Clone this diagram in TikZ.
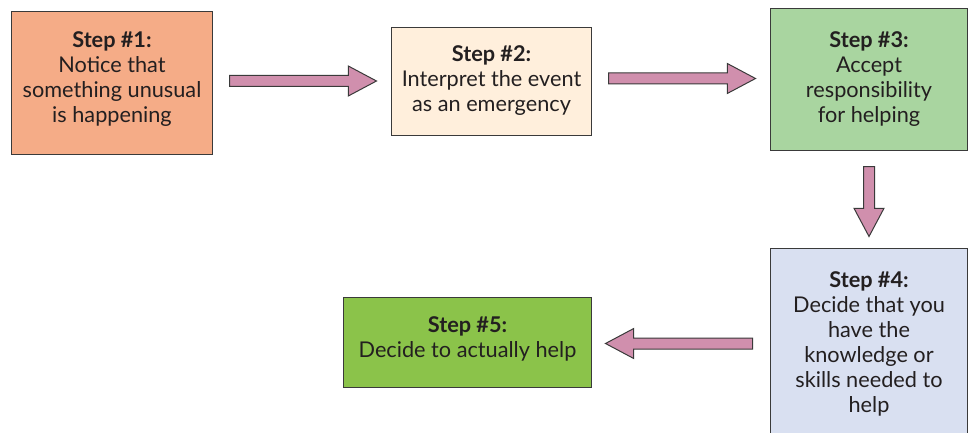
\documentclass[tikz,border=0pt]{standalone}
\usepackage{fontspec}
\setmainfont{Lato}
\usetikzlibrary{shapes.arrows,calc}
\definecolor{txt}{HTML}{231F20}
\definecolor{edge}{HTML}{3A3A3A}
\definecolor{cA}{HTML}{F5AC87}
\definecolor{cB}{HTML}{FFEFDC}
\definecolor{cC}{HTML}{A9D5A0}
\definecolor{cD}{HTML}{D9E0F1}
\definecolor{cE}{HTML}{8BC34A}
\definecolor{arr}{HTML}{D08FAD}
\tikzset{
  stepbox/.style={draw=edge, line width=1pt, inner sep=0pt, anchor=north west},
  steptext/.style={align=center, text=txt, font=\fontsize{21.7}{25}\selectfont, inner sep=0pt},
  blockarrow/.style={single arrow, draw=edge, fill=arr, line width=1pt,
    inner xsep=0pt, inner ysep=5pt, single arrow head extend=9.5pt,
    single arrow tip angle=56, minimum height=147pt, anchor=tail}
}
\begin{document}
\begin{tikzpicture}[x=1pt,y=-1pt]
\useasboundingbox (0,0) rectangle (968,433);
\node[stepbox, fill=cA, minimum width=201pt, minimum height=143pt] (s1) at (11,11) {};
\node[stepbox, fill=cB, minimum width=200pt, minimum height=108pt] (s2) at (391,27) {};
\node[stepbox, fill=cC, minimum width=197pt, minimum height=142pt] (s3) at (770,8) {};
\node[stepbox, fill=cD, minimum width=197pt, minimum height=200pt] (s4) at (770,248) {};
\node[stepbox, fill=cE, minimum width=248pt, minimum height=90pt] (s5) at (343,297) {};
\node[steptext] (t1) at ($(s1.center)+(0,-4)$) {\textbf{Step \#1:}\\Notice that\\something unusual\\is happening};
\node[steptext] (t2) at ($(s2.center)+(0,-1)$) {\textbf{Step \#2:}\\Interpret the event\\as an emergency};
\node[steptext] (t3) at ($(s3.center)+(0,0)$) {\textbf{Step \#3:}\\Accept\\responsibility\\for helping};
\node[steptext] (t4) at ($(s4.north)+(0,96)$) {\textbf{Step \#4:}\\Decide that you\\have the\\knowledge or\\skills needed to\\help};
\node[steptext] (t5) at ($(s5.center)+(0,-4)$) {\textbf{Step \#5:}\\Decide to actually help};
\node[blockarrow] (a1) at ($(s1.east)+(16,-2)$) {};
\node[blockarrow] (a2) at ($(s2.east)+(16,-3)$) {};
\node[blockarrow, minimum height=70pt, rotate=-90] (a3) at ($(s3.south)+(0,15)$) {};
\node[blockarrow, rotate=180] (a4) at ($(s4.west |- s5.east)+(-17,1)$) {};
\end{tikzpicture}
\end{document}
